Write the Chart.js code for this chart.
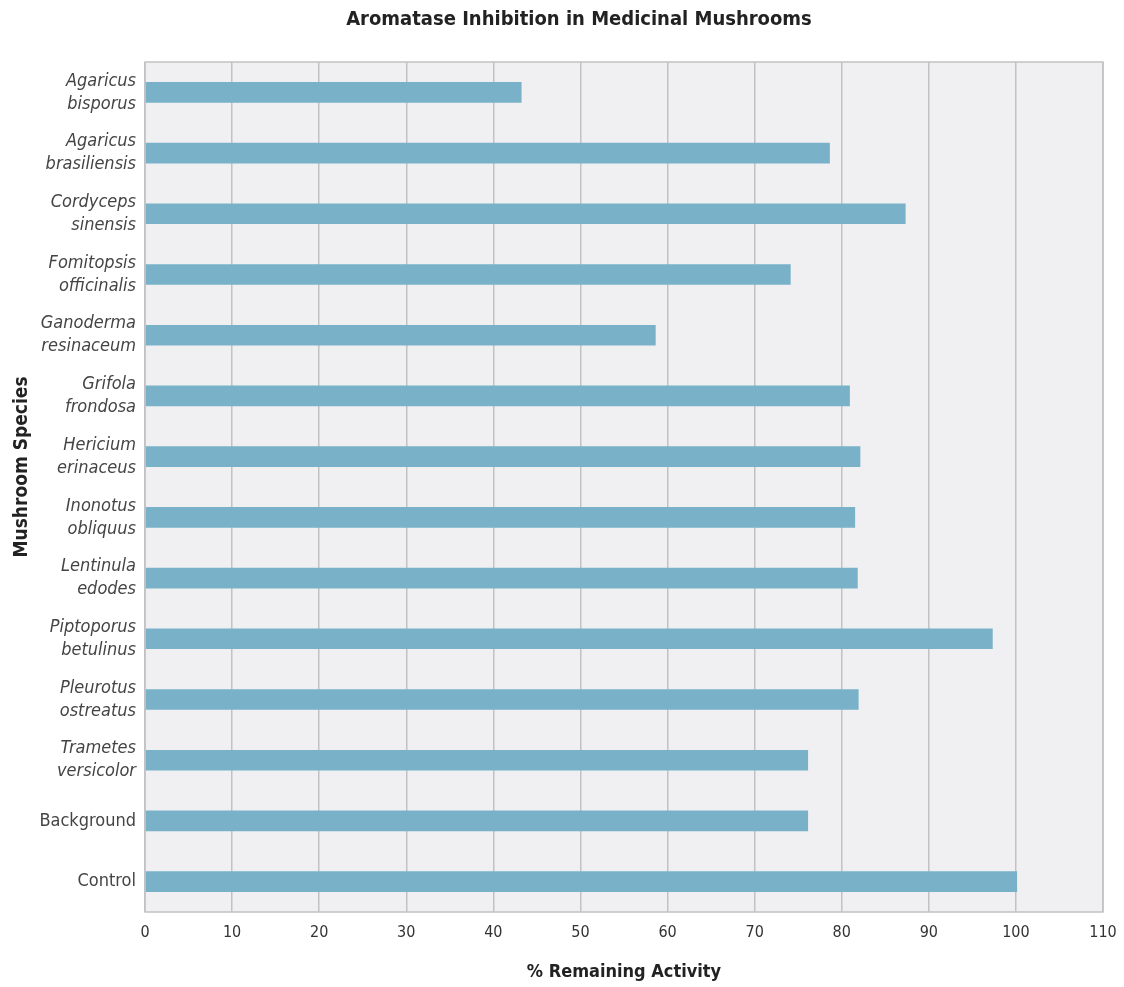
<!DOCTYPE html>
<html>
<head>
<meta charset="utf-8">
<script src="https://cdn.jsdelivr.net/npm/chart.js@4/dist/chart.umd.min.js"></script>
<style>
  html, body { margin: 0; padding: 0; background: #ffffff; }
  #wrap { width: 1124px; height: 987px; position: relative; }
</style>
</head>
<body>
<div id="wrap"><canvas id="c" width="1124" height="987"></canvas></div>
<script>
const chartTitle = "Aromatase Inhibition in Medicinal Mushrooms";
const xAxisTitle = "% Remaining Activity";
const yAxisTitle = "Mushroom Species";
const categories = [
  ["Agaricus", "bisporus"],
  ["Agaricus", "brasiliensis"],
  ["Cordyceps", "sinensis"],
  ["Fomitopsis", "officinalis"],
  ["Ganoderma", "resinaceum"],
  ["Grifola", "frondosa"],
  ["Hericium", "erinaceus"],
  ["Inonotus", "obliquus"],
  ["Lentinula", "edodes"],
  ["Piptoporus", "betulinus"],
  ["Pleurotus", "ostreatus"],
  ["Trametes", "versicolor"],
  "Background",
  "Control"
];
const italicLabel = [true, true, true, true, true, true, true, true, true, true, true, true, false, false];
const remainingActivity = [43.2, 78.6, 87.3, 74.1, 58.6, 80.9, 82.1, 81.5, 81.8, 97.3, 81.9, 76.1, 76.1, 100.1];
const xTicks = [0, 10, 20, 30, 40, 50, 60, 70, 80, 90, 100, 110];

const FONT = "'Liberation Sans Narrow', 'DejaVu Sans Condensed', 'Roboto Condensed', sans-serif";

const plotFrame = {
  id: 'plotFrame',
  beforeDraw(chart) {
    const a = chart.chartArea, ctx = chart.ctx;
    ctx.save();
    ctx.fillStyle = '#f0f0f2';
    ctx.fillRect(a.left, a.top, a.right - a.left, a.bottom - a.top);
    ctx.restore();
  },
  afterDraw(chart) {
    const a = chart.chartArea, ctx = chart.ctx;
    ctx.save();
    ctx.strokeStyle = '#c2c2c4';
    ctx.lineWidth = 1.5;
    ctx.strokeRect(a.left, a.top, a.right - a.left, a.bottom - a.top);
    // chart title
    ctx.fillStyle = '#222';
    ctx.textAlign = 'center';
    ctx.textBaseline = 'middle';
    ctx.font = "bold 20px " + FONT;
    ctx.fillText(chartTitle, 579, 20);
    // y axis title
    ctx.font = "bold 19px " + FONT;
    ctx.translate(22, 467);
    ctx.rotate(-Math.PI / 2);
    ctx.fillText(yAxisTitle, 0, 0);
    ctx.restore();
  }
};

new Chart(document.getElementById('c'), {
  type: 'bar',
  data: {
    labels: categories,
    datasets: [{
      data: remainingActivity,
      backgroundColor: '#79b2c8',
      borderWidth: 0,
      barThickness: 20
    }]
  },
  options: {
    indexAxis: 'y',
    responsive: false,
    animation: false,
    layout: { padding: { left: 0, right: 21, top: 62, bottom: 0 } },
    plugins: {
      legend: { display: false },
      tooltip: { enabled: false },
      title: { display: false }
    },
    scales: {
      x: {
        type: 'linear',
        min: 0,
        max: 110,
        afterBuildTicks(scale) { scale.ticks = xTicks.map(v => ({ value: v })); },
        afterFit(scale) { scale.height = 75; scale.paddingRight = 0; scale.paddingLeft = 0; },
        grid: { color: '#c2c2c4', lineWidth: 1.5, drawTicks: false },
        border: { display: false },
        ticks: {
          color: '#333',
          padding: 11,
          font: { family: FONT, size: 16 }
        },
        title: {
          display: true,
          text: xAxisTitle,
          color: '#222',
          font: { family: FONT, size: 18, weight: 'bold' },
          padding: { top: 13 }
        }
      },
      y: {
        type: 'category',
        afterFit(scale) { scale.width = 145; scale.paddingTop = 0; scale.paddingBottom = 0; },
        grid: { display: false, drawTicks: false },
        border: { display: false },
        ticks: {
          color: '#444',
          padding: 9,
          font: (ctx) => ({ family: FONT, size: 18, style: italicLabel[ctx.index] ? 'italic' : 'normal', lineHeight: 1.28 })
        },
        title: { display: false }
      }
    }
  },
  plugins: [plotFrame]
});
</script>
</body>
</html>
